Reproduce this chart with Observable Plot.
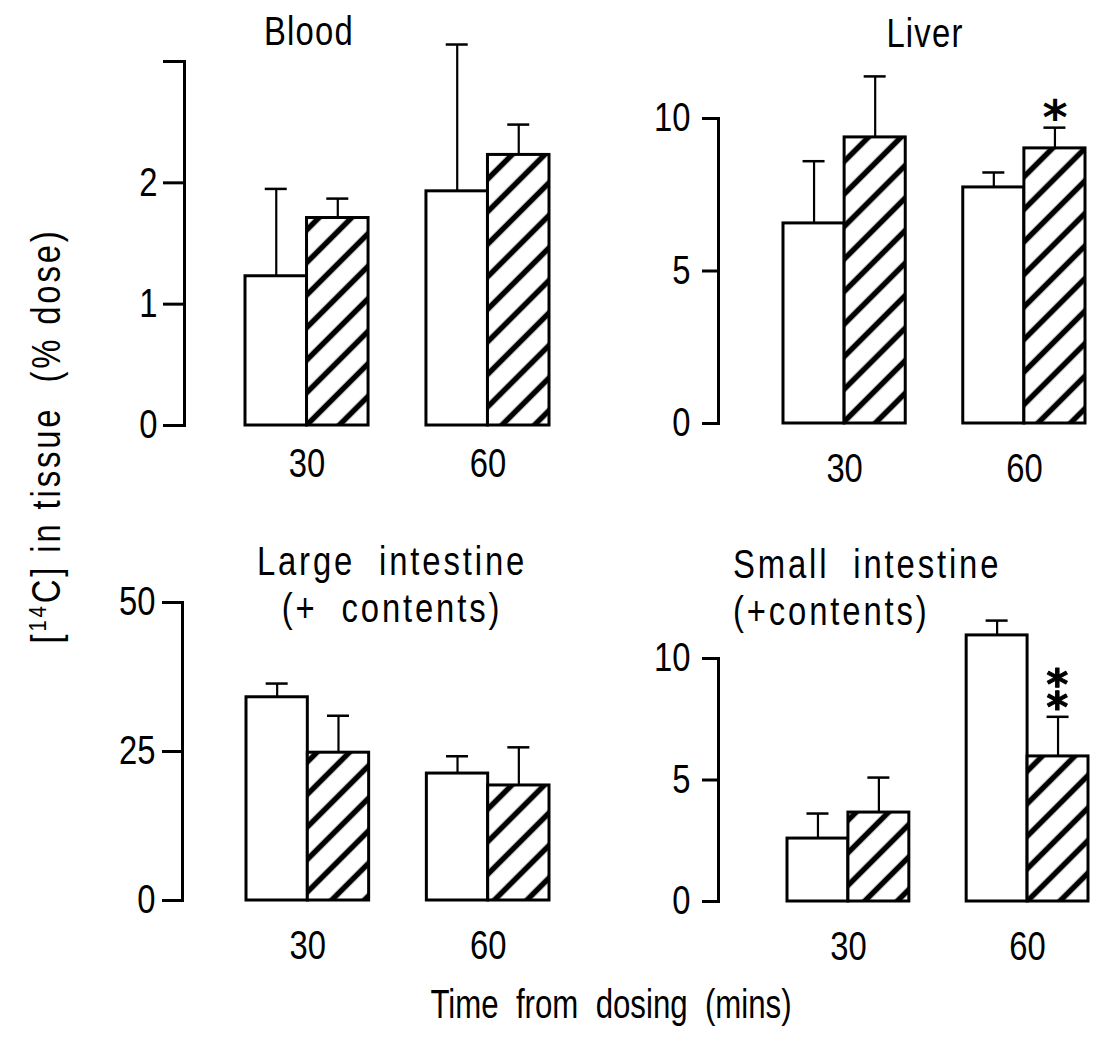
<!DOCTYPE html>
<html><head><meta charset="utf-8">
<script src="https://cdn.jsdelivr.net/npm/d3@7"></script>
<script src="https://cdn.jsdelivr.net/npm/@observablehq/plot@0.6"></script>
<style>
body{margin:0;background:#fff;}
#root{position:relative;width:1094px;height:1051px;overflow:hidden;font-family:"Liberation Sans",Arial,sans-serif;color:#000;}
.lbl{position:absolute;font-size:40px;white-space:pre;line-height:1;}
sup{font-size:0.62em;vertical-align:0.55em;}
</style></head><body><div id="root"></div>
<script>
// ---- data ----
const panelTitles = [["Blood"], ["Liver"], ["Large  intestine", "(+  contents)"], ["Small  intestine", "(+contents)"]];
const times = ["30", "60"];
const groups = ["control", "treated"];
// order: 30-control, 30-treated, 60-control, 60-treated
const bloodMean = [1.23, 1.71, 1.93, 2.23];
const bloodSem  = [0.72, 0.16, 1.21, 0.25];
const liverMean = [6.56, 9.38, 7.74, 9.02];
const liverSem  = [2.04, 2.00, 0.49, 0.68];
const largeMean = [34.1, 24.8, 21.3, 19.3];
const largeSem  = [2.3, 6.2, 2.9, 6.4];
const smallMean = [2.59, 3.66, 10.95, 5.97];
const smallSem  = [1.03, 1.44, 0.61, 1.63];
const bloodTicks = [0, 1, 2, 3];   const bloodTickLabels = ["0", "1", "2", ""];
const liverTicks = [0, 5, 10];     const liverTickLabels = ["0", "5", "10"];
const largeTicks = [0, 25, 50];    const largeTickLabels = ["0", "25", "50"];
const smallTicks = [0, 5, 10];     const smallTickLabels = ["0", "5", "10"];
const significance = [
  {panel: 1, time: "60", group: "treated", label: "*"},
  {panel: 3, time: "60", group: "treated", label: "\u2051"}   // two asterisks stacked (**)
];
const yLabelText = "[<sup>14</sup>C] in tissue  (% dose)";
const xLabelText = "Time  from  dosing  (mins)";

const means = [bloodMean, liverMean, largeMean, smallMean];
const sems = [bloodSem, liverSem, largeSem, smallSem];
const ticks = [bloodTicks, liverTicks, largeTicks, smallTicks];
const tickLabels = [bloodTickLabels, liverTickLabels, largeTickLabels, smallTickLabels];

// ---- layout ----
const FONT = '"Liberation Sans",Arial,sans-serif';
const SX = 0.82;  // horizontal condensing of the lettering
const W = 560, H = 500, PI = 0.32;
const layout = [
  {left: 0,   top: 0,   axis: 184, yTop: 61,  y0: 425, range: [245, 549], tickSize: 21, tickPadding: 6,  xPad: 23},
  {left: 534, top: 0,   axis: 184, yTop: 118, y0: 423, range: [249, 551], tickSize: 16, tickPadding: 12, xPad: 30},
  {left: 0,   top: 500, axis: 182, yTop: 102, y0: 400, range: [246, 549], tickSize: 20, tickPadding: 7,  xPad: 30},
  {left: 534, top: 500, axis: 184, yTop: 158, y0: 401, range: [253, 554], tickSize: 16, tickPadding: 12, xPad: 30}
];
const titleLayout = [
  {x: 309, y: 31, anchor: "middle", ls: 1.5},
  {x: 925, y: 33, anchor: "middle", ls: 1.5},
  {x: 392, y: 561, anchor: "middle", ls: 3.5, gap: 47},
  {x: 733, y: 564, anchor: "start", ls: 3.5, gap: 47}
];

const root = document.getElementById("root");
const ns = "http://www.w3.org/2000/svg";

function condense(svg) {
  svg.querySelectorAll('g[aria-label$="tick label"] text').forEach(t => {
    const tr = t.getAttribute("transform");
    if (tr) t.setAttribute("transform", tr + ` scale(${SX},1)`);
  });
}

function addLabel(text, x, y, opts = {}) {
  const div = document.createElement("div");
  div.className = "lbl";
  if (opts.html) div.innerHTML = text; else div.textContent = text;
  div.style.left = x + "px";
  div.style.top = y + "px";
  div.style.letterSpacing = (opts.ls || 0) + "px";
  const start = opts.anchor === "start";
  div.style.transformOrigin = start ? "0 50%" : "50% 50%";
  div.style.transform = (start ? "translate(0,-50%)" : "translate(-50%,-50%)") + (opts.rotate ? ` rotate(${opts.rotate}deg)` : "") + ` scaleX(${opts.sx || SX})`;
  root.appendChild(div);
}

for (let i = 0; i < 4; i++) {
  const L = layout[i];
  const rows = times.flatMap((t, ti) => groups.map((g, gi) => ({
    time: t, group: g, mean: means[i][ti * 2 + gi], sem: sems[i][ti * 2 + gi]
  })));
  const ctrl = rows.filter(d => d.group === "control");
  const trt = rows.filter(d => d.group === "treated");
  const stars = significance.filter(s => s.panel === i).map(s => {
    const r = rows.find(d => d.time === s.time && d.group === s.group);
    return {...s, top: r.mean + r.sem};
  });
  const bw = (L.range[1] - L.range[0]) / (2 - PI) * (1 - PI);
  const half = bw / 2, q = bw / 4, cap = 11;
  const tl = new Map(ticks[i].map((t, k) => [t, tickLabels[i][k]]));
  const top = d => d.mean + d.sem;

  const svg = Plot.plot({
    width: W, height: H,
    marginLeft: L.axis, marginRight: 0, marginTop: L.yTop, marginBottom: H - L.y0,
    style: {background: "transparent", fontFamily: FONT, fontSize: "40px", color: "black", overflow: "visible"},
    x: {type: "band", domain: times, range: L.range, paddingInner: PI, paddingOuter: 0, round: false},
    y: {domain: [0, d3.max(ticks[i])]},
    marks: [
      Plot.ruleX(ctrl, {x: "time", y1: "mean", y2: top, dx: -q, stroke: "black", strokeWidth: 2.2}),
      Plot.ruleX(trt, {x: "time", y1: "mean", y2: top, dx: q, stroke: "black", strokeWidth: 2.2}),
      Plot.tickY(ctrl, {x: "time", y: top, insetLeft: q - cap, insetRight: bw - q - cap, stroke: "black", strokeWidth: 2.5}),
      Plot.tickY(trt, {x: "time", y: top, insetLeft: bw - q - cap, insetRight: q - cap, stroke: "black", strokeWidth: 2.5}),
      Plot.barY(ctrl, {x: "time", y: "mean", fill: "white", stroke: "black", strokeWidth: 3, insetRight: half}),
      Plot.barY(trt, {x: "time", y: "mean", fill: `url(#hatch${i})`, stroke: "black", strokeWidth: 3, insetLeft: half}),
      Plot.text(stars.filter(s => s.label === "*"), {x: "time", y: "top", text: "label", dx: q, dy: 6, lineAnchor: "bottom",
        fontSize: 48, fontWeight: "bold", fontFamily: "DejaVu Sans, sans-serif", fill: "black"}),
      Plot.text(stars.filter(s => s.label !== "*"), {x: "time", y: "top", text: "label", dx: q, dy: -8, lineAnchor: "bottom",
        fontSize: 52, fontWeight: "bold", fontFamily: "DejaVu Sans, sans-serif", fill: "black", stroke: "black", strokeWidth: 1}),
      Plot.axisY({ticks: ticks[i], tickFormat: d => tl.get(d), tickSize: L.tickSize, tickPadding: L.tickPadding,
        strokeWidth: 3, fontSize: 40, label: null}),
      Plot.frame({anchor: "left", stroke: "black", strokeWidth: 3}),
      Plot.axisX({tickSize: 0, tickPadding: L.xPad, fontSize: 40, label: null})
    ]
  });
  const defs = document.createElementNS(ns, "defs");
  defs.innerHTML = `<pattern id="hatch${i}" patternUnits="userSpaceOnUse" width="23" height="23" patternTransform="rotate(45)">
    <rect width="23" height="23" fill="white"/><line x1="11.5" y1="-1" x2="11.5" y2="24" stroke="black" stroke-width="5.5"/></pattern>`;
  svg.insertBefore(defs, svg.firstChild);
  condense(svg);
  svg.style.position = "absolute";
  svg.style.left = L.left + "px";
  svg.style.top = L.top + "px";
  root.appendChild(svg);

  const T = titleLayout[i];
  panelTitles[i].forEach((line, k) => {
    addLabel(line, T.x, T.y + k * (T.gap || 0), {ls: T.ls, anchor: T.anchor});
  });
}

addLabel(yLabelText, 46, 436, {html: true, rotate: -90, ls: 3.5});
addLabel(xLabelText, 611, 1004, {ls: 0, sx: 0.78});
</script>
</body></html>
